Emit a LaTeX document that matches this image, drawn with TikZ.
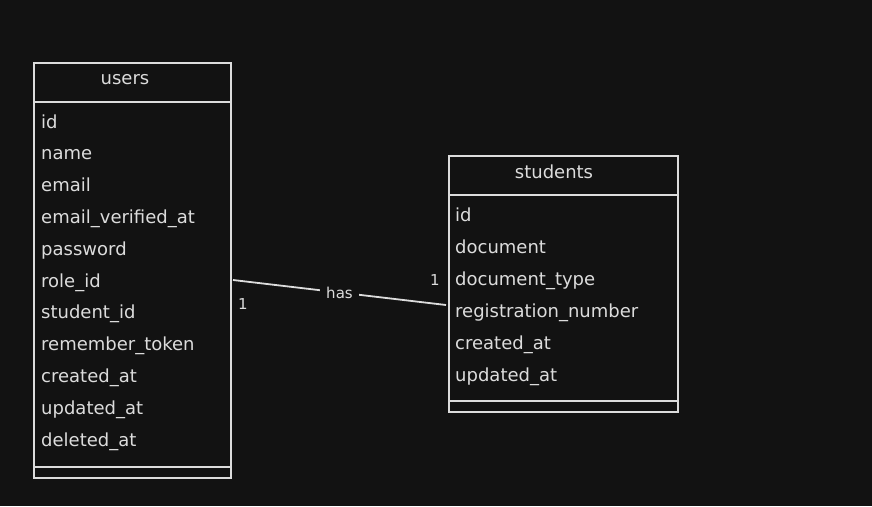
\documentclass[tikz,border=0pt]{standalone}
\usepackage{fontspec}
\setmainfont{DejaVu Sans}
\usetikzlibrary{positioning}
\definecolor{fundo}{HTML}{121212}
\definecolor{traco}{HTML}{DCDCDC}

\begin{document}
\begin{tikzpicture}[x=1pt,y=-1pt]
        \tikzstyle{tabela}=[draw=traco, line width=1.5pt, fill=fundo, rectangle, anchor=north west, inner sep=0pt]
        \tikzstyle{campo}=[text=traco, anchor=base west, inner sep=0pt, font=\fontsize{18}{20}\selectfont]
        \tikzstyle{titulo}=[text=traco, anchor=base, inner sep=0pt, font=\fontsize{18}{20}\selectfont]
        \tikzstyle{card}=[text=traco, inner sep=0pt, font=\fontsize{15}{17}\selectfont]

        \fill[fundo] (0,0) rectangle (872,506);
        \useasboundingbox (0,0) rectangle (872,506);

        % tabela users
        \node[tabela, minimum width=197pt, minimum height=415pt] (users) at (33,62) {};
        \node[titulo] (usersT) at (125,84) {users};
        \draw[traco, line width=1.6pt] (33,102) -- (230,102);
        \draw[traco, line width=1.4pt] (33,467) -- (230,467);
        \foreach \nome [count=\i] in {id,name,email,email\_verified\_at,password,role\_id,student\_id,remember\_token,created\_at,updated\_at,deleted\_at}
          \node[campo] (u\i) at (41,{128+31.8*(\i-1)}) {\nome};

        % tabela students
        \node[tabela, minimum width=229pt, minimum height=256pt] (students) at (448,155) {};
        \node[titulo] (studentsT) at (554,178) {students};
        \draw[traco, line width=1.6pt] (448,195) -- (677,195);
        \draw[traco, line width=1.4pt] (448,401) -- (677,401);
        \foreach \nome [count=\i] in {id,document,document\_type,registration\_number,created\_at,updated\_at}
          \node[campo] (s\i) at (455,{221+32*(\i-1)}) {\nome};

        % relacionamento
        \coordinate (A) at (233,280);
        \coordinate (B) at (446,305);
        \draw[traco, line width=1.8pt] (A) -- node[fill=fundo, text=traco, inner xsep=6pt, inner ysep=2pt, font=\fontsize{15}{17}\selectfont] (has) {has} (B);
        \node[card] (c1) at (243,304) {1};
        \node[card] (c2) at (435,280) {1};
      \end{tikzpicture}
\end{document}
